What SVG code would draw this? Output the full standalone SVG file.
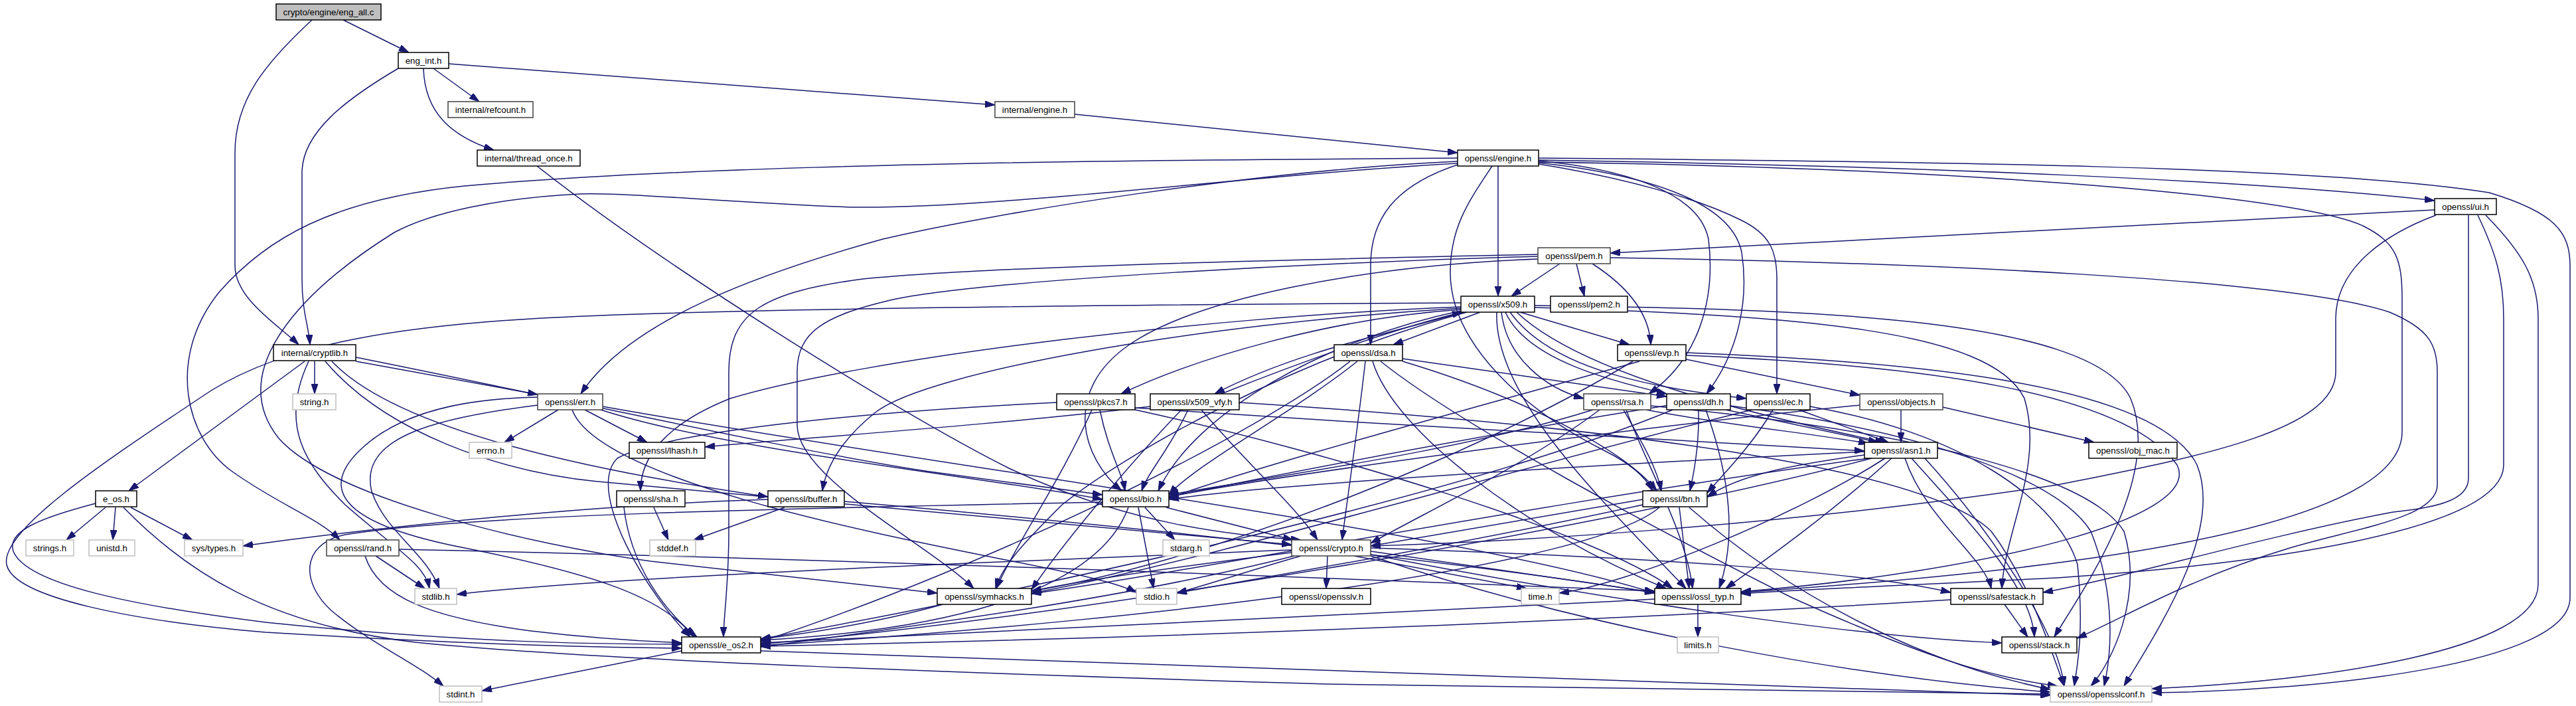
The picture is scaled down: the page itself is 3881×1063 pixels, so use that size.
<svg xmlns="http://www.w3.org/2000/svg" width="3881" height="1063" viewBox="0 0 3881 1063">
<style>
.e path{fill:none;stroke:#191970;stroke-width:1.5;marker-end:url(#a)}
.n rect{fill:#fff;stroke:#000;stroke-width:1.5}
.n.d rect{stroke:#404040}
.n.g rect{stroke:#bfbfbf}
.n.r rect{fill:#bfbfbf}
.n text{font-family:"Liberation Sans",Arial,Helvetica,sans-serif;font-size:13.3px;text-anchor:middle;fill:#000}
</style>
<defs>
<marker id="a" viewBox="0 0 15 10" refX="15" refY="5" markerWidth="15" markerHeight="10" markerUnits="userSpaceOnUse" orient="auto"><path d="M0,0 L15,5 L0,10 z" fill="#191970" stroke="#191970"/></marker>
</defs>
<rect width="3881" height="1063" fill="#fff"/>
<g id="edges" class="e">
<path d="M517,30 L616,79"/>
<path d="M470,30 C400,95 354,150 354,230 L354,400 C354,450 420,490 450,519"/>
<path d="M600,103 C520,150 455,200 455,260 L455,420 C455,470 465,490 467,519"/>
<path d="M676,96 L1499,158"/>
<path d="M653,103 L722,153"/>
<path d="M638,103 C640,170 680,205 744,226"/>
<path d="M1619,172 L2196,230"/>
<path d="M809,250 C1000,400 1350,620 1520,705 C1700,790 1850,805 1960,813"/>
<path d="M2318,238 C2900,243 3500,250 3750,290 C3850,320 3872,350 3872,400 L3872,900 C3872,1000 3500,1040 3242,1043"/>
<path d="M2318,241 C2900,250 3400,272 3668,302"/>
<path d="M2318,244 C2900,252 3450,290 3560,340 C3610,365 3619,390 3619,450 L3619,650 C3619,800 3100,860 2623,892"/>
<path d="M2196,243 C1900,256 1500,320 1330,360 C1150,410 950,480 875,593"/>
<path d="M2196,238 L1950,240 C1400,244 980,255 700,280 C500,300 400,360 330,440 C250,540 280,660 350,710 C420,760 480,780 512,813"/>
<path d="M2196,246 C1900,262 1500,315 1282,312 C1100,305 950,290 875,292 C750,298 650,320 594,350 C450,440 340,560 420,660 C500,750 800,820 980,845 C1150,865 1300,880 1412,893"/>
<path d="M2257,250 L2257,446"/>
<path d="M2196,248 C2100,280 2065,330 2065,400 L2065,519"/>
<path d="M2248,250 C2215,300 2185,340 2185,410 C2185,520 2300,620 2420,680 C2460,700 2480,720 2490,739"/>
<path d="M2318,242 C2450,255 2560,290 2574,360 C2585,450 2560,540 2484,593"/>
<path d="M2318,245 C2500,265 2610,310 2624,380 C2635,450 2620,530 2571,593"/>
<path d="M2318,247 C2450,268 2560,300 2620,330 C2668,352 2677,380 2677,420 L2677,593"/>
<path d="M3668,316 L2426,381"/>
<path d="M3670,324 C3600,350 3519,400 3519,480 L3519,560 C3519,650 3300,690 3100,730 C2700,790 2300,815 2065,822"/>
<path d="M3719,324 L3719,720 C3719,760 3650,765 3600,772 C3400,810 3200,870 3078,892"/>
<path d="M3733,324 C3760,380 3772,420 3772,480 L3772,700 C3772,800 3400,850 3100,870 C2900,880 2700,888 2623,894"/>
<path d="M3745,324 C3800,380 3824,420 3824,480 L3824,880 C3824,980 3500,1025 3242,1037"/>
<path d="M2350,397 L2277,446"/>
<path d="M2375,397 L2387,446"/>
<path d="M2399,397 C2450,430 2485,470 2487,519"/>
<path d="M2426,388 C2900,395 3450,420 3600,470 C3660,495 3672,520 3672,560 L3672,730 C3672,780 3550,795 3450,825 C3300,870 3200,930 3129,961"/>
<path d="M2317,383 C2000,390 1500,400 1300,420 C1150,440 1098,470 1098,560 L1098,800 C1098,880 1090,930 1090,959"/>
<path d="M2317,386 C2000,395 1500,420 1350,450 C1240,475 1201,500 1201,560 L1201,640 C1201,720 1400,820 1467,886"/>
<path d="M2317,390 C2050,400 1800,450 1700,520 C1600,590 1630,690 1690,739"/>
<path d="M2230,470 L2099,519"/>
<path d="M2290,470 L2455,519"/>
<path d="M2262,470 C2270,540 2330,585 2386,600"/>
<path d="M2268,470 C2300,540 2420,572 2511,593"/>
<path d="M2275,470 C2340,560 2500,585 2631,600"/>
<path d="M2285,470 C2380,560 2620,620 2840,666"/>
<path d="M2312,463 C2700,475 3000,495 3050,600 C3080,700 3020,800 3016,886"/>
<path d="M2312,460 C2700,465 3150,475 3210,600 C3260,720 3130,900 3095,959"/>
<path d="M2255,470 C2250,600 2420,760 2540,886"/>
<path d="M2201,462 C1800,478 1300,540 1100,600 C1000,640 965,690 965,739"/>
<path d="M2201,464 C1800,488 1400,560 1320,620 C1270,660 1245,700 1239,739"/>
<path d="M2201,466 C2000,480 1800,540 1689,593"/>
<path d="M2205,470 C2100,500 1950,530 1830,593"/>
<path d="M2201,468 C2000,510 1800,620 1745,739"/>
<path d="M2210,470 C1950,540 1700,680 1600,760 C1550,810 1510,850 1500,886"/>
<path d="M2201,456 C1500,460 1000,468 800,480 C550,495 400,530 300,600 C150,700 0,800 10,850 C20,900 200,935 400,952 C700,970 900,975 1027,976"/>
<path d="M459,544 L194,739"/>
<path d="M474,544 L474,593"/>
<path d="M465,544 C420,640 460,700 520,760 C600,830 640,850 647,886"/>
<path d="M490,544 C580,650 750,710 900,725 C1300,760 1700,800 1946,820"/>
<path d="M536,538 C800,590 1200,680 1400,710 C1550,730 1620,740 1661,745"/>
<path d="M500,544 C600,650 900,710 1157,748"/>
<path d="M536,544 L810,594"/>
<path d="M2113,540 L2511,597"/>
<path d="M2113,544 C2300,600 2450,680 2496,739"/>
<path d="M2034,544 C1900,650 1500,850 1146,966"/>
<path d="M2045,544 C1950,620 1800,700 1761,745"/>
<path d="M2057,544 C2045,650 2030,750 2022,813"/>
<path d="M2068,544 C2100,650 2300,800 2510,886"/>
<path d="M2080,544 C2200,640 2500,800 2700,900 C2900,990 3000,1020 3100,1033"/>
<path d="M2540,541 L2802,595"/>
<path d="M2540,531 C2900,545 3250,580 3310,700 C3350,800 3250,950 3200,1033"/>
<path d="M2540,535 C2900,550 3200,590 3280,700 C3320,780 3000,860 2623,891"/>
<path d="M2470,544 C2200,620 1900,700 1761,750"/>
<path d="M2460,544 C2200,700 1800,850 1554,890"/>
<path d="M841,617 L760,666"/>
<path d="M881,617 L975,666"/>
<path d="M810,610 C650,630 540,660 560,740 C580,800 640,830 662,886"/>
<path d="M810,598 C700,600 600,620 540,680 C480,740 520,790 700,825 C900,865 1000,900 1045,959"/>
<path d="M862,617 C900,720 1300,800 1500,840 C1600,860 1680,875 1712,892"/>
<path d="M908,612 C1400,700 2200,800 2493,893"/>
<path d="M905,617 C1100,680 1500,720 1661,752"/>
<path d="M1592,606 C1300,620 1000,650 930,690 C880,740 980,900 1040,959"/>
<path d="M1645,617 C1600,720 1530,820 1501,886"/>
<path d="M1657,617 C1670,680 1690,710 1695,739"/>
<path d="M1710,614 C2100,640 2600,670 2809,679"/>
<path d="M1710,617 C2000,680 2400,800 2520,886"/>
<path d="M1840,593 C1960,545 2100,495 2203,470"/>
<path d="M1733,612 C1500,640 1200,660 1062,673"/>
<path d="M1867,606 C2400,640 2900,700 3000,800 C3060,880 3090,980 3110,1033"/>
<path d="M1790,617 C1760,680 1730,710 1720,739"/>
<path d="M1810,617 C1880,700 1950,760 1985,813"/>
<path d="M1780,617 C1700,700 1600,820 1554,888"/>
<path d="M2480,617 C2600,640 2750,655 2815,668"/>
<path d="M2446,617 C2470,660 2495,700 2503,739"/>
<path d="M2400,617 C2200,680 1900,720 1761,745"/>
<path d="M2410,617 C2300,700 2150,770 2065,818"/>
<path d="M2450,617 C2480,700 2540,800 2550,886"/>
<path d="M2487,611 C2900,650 3150,720 3200,800 C3230,900 3180,1000 3150,1033"/>
<path d="M2600,617 L2830,666"/>
<path d="M2559,617 C2560,660 2555,700 2546,739"/>
<path d="M2520,617 C2200,750 1500,900 1146,962"/>
<path d="M2515,610 C2200,660 1900,720 1761,748"/>
<path d="M2570,617 C2600,700 2620,800 2590,886"/>
<path d="M2607,611 C2900,650 3100,720 3150,800 C3190,900 3180,990 3170,1033"/>
<path d="M2710,617 L2845,666"/>
<path d="M2671,617 C2640,670 2600,710 2572,742"/>
<path d="M2640,617 C2300,700 1800,850 1554,893"/>
<path d="M2727,612 C2950,650 3100,750 3130,850 C3140,950 3130,1000 3125,1033"/>
<path d="M2864,617 L2864,666"/>
<path d="M2927,613 L3155,666"/>
<path d="M2802,610 C2400,650 1900,720 1761,748"/>
<path d="M2809,685 C2700,700 2620,715 2572,748"/>
<path d="M2840,690 C2700,780 2450,880 2349,893"/>
<path d="M2820,690 C2400,800 1600,930 1146,970"/>
<path d="M2809,680 C2400,700 1900,730 1761,752"/>
<path d="M2880,690 C2960,780 3060,880 3065,959"/>
<path d="M2870,690 C2900,780 2990,840 3000,886"/>
<path d="M2815,690 C2300,760 1800,860 1554,894"/>
<path d="M2850,690 C2750,780 2650,850 2600,886"/>
<path d="M2900,690 C3000,800 3100,950 3110,1033"/>
<path d="M159,764 L100,813"/>
<path d="M174,764 L170,813"/>
<path d="M197,764 L290,813"/>
<path d="M144,758 C60,780 10,800 20,830 C40,880 200,912 400,937 C700,968 900,970 1027,970"/>
<path d="M186,764 C280,860 400,940 625,967 C900,995 1500,1015 2000,1030 C2500,1040 2900,1045 3089,1045"/>
<path d="M985,764 L1007,813"/>
<path d="M940,764 C950,850 1000,920 1050,959"/>
<path d="M1157,752 C900,760 600,790 366,822"/>
<path d="M1182,764 L1045,813"/>
<path d="M1272,755 C1800,800 2300,860 2493,893"/>
<path d="M1715,764 L1738,886"/>
<path d="M1725,764 L1770,813"/>
<path d="M1757,764 L1948,813"/>
<path d="M1700,764 C1650,900 1400,950 1146,964"/>
<path d="M1661,756 C1200,765 700,775 520,805 C450,820 455,880 500,920 C560,970 630,1000 668,1033"/>
<path d="M2475,752 L2065,822"/>
<path d="M2475,760 C2200,820 1900,870 1773,893"/>
<path d="M2530,764 L2545,886"/>
<path d="M2500,764 C2400,850 1800,930 1146,972"/>
<path d="M2545,764 C2700,900 2900,1000 3089,1038"/>
<path d="M566,837 L640,886"/>
<path d="M601,827 C1200,840 2000,870 2493,890"/>
<path d="M550,837 C570,900 650,930 800,950 C900,962 980,966 1027,968"/>
<path d="M2000,837 L1998,886"/>
<path d="M2040,837 L2300,886"/>
<path d="M2065,830 L2493,892"/>
<path d="M2065,825 C2500,840 2800,860 2939,892"/>
<path d="M2065,835 C2400,900 2800,960 3016,968"/>
<path d="M2065,837 C2400,950 2800,1020 3089,1042"/>
<path d="M1946,828 C1400,850 900,870 688,895"/>
<path d="M1960,837 C1880,860 1820,880 1773,893"/>
<path d="M1950,837 C1700,900 1400,940 1146,974"/>
<path d="M1946,832 C1800,850 1650,870 1554,890"/>
<path d="M2558,910 L2558,959"/>
<path d="M2493,902 C2000,930 1500,950 1146,968"/>
<path d="M3020,910 L3055,959"/>
<path d="M2939,903 C2500,930 1800,960 1146,973"/>
<path d="M1420,910 C1350,930 1250,950 1146,962"/>
<path d="M1146,980 C2000,1010 2800,1035 3089,1047"/>
<path d="M1027,980 L726,1040"/>
</g>
<g id="n_eng_all" class="n r"><rect x="416" y="6" width="158" height="24"/><text x="495" y="23">crypto/engine/eng_all.c</text></g>
<g id="n_eng_int" class="n"><rect x="600" y="79" width="76" height="24"/><text x="638" y="96">eng_int.h</text></g>
<g id="n_refcount" class="n d"><rect x="675" y="153" width="128" height="24"/><text x="739" y="170">internal/refcount.h</text></g>
<g id="n_int_engine" class="n d"><rect x="1499" y="153" width="120" height="24"/><text x="1559" y="170">internal/engine.h</text></g>
<g id="n_thread_once" class="n"><rect x="719" y="226" width="155" height="24"/><text x="796.5" y="243">internal/thread_once.h</text></g>
<g id="n_engine" class="n"><rect x="2196" y="226" width="122" height="24"/><text x="2257" y="243">openssl/engine.h</text></g>
<g id="n_ui" class="n"><rect x="3668" y="299" width="93" height="24"/><text x="3714.5" y="316">openssl/ui.h</text></g>
<g id="n_pem" class="n d"><rect x="2317" y="373" width="109" height="24"/><text x="2371.5" y="390">openssl/pem.h</text></g>
<g id="n_x509" class="n"><rect x="2201" y="446" width="111" height="24"/><text x="2256.5" y="463">openssl/x509.h</text></g>
<g id="n_pem2" class="n"><rect x="2336" y="446" width="116" height="24"/><text x="2394" y="463">openssl/pem2.h</text></g>
<g id="n_cryptlib" class="n"><rect x="412" y="519" width="124" height="24"/><text x="474" y="536">internal/cryptlib.h</text></g>
<g id="n_dsa" class="n"><rect x="2010" y="519" width="103" height="24"/><text x="2061.5" y="536">openssl/dsa.h</text></g>
<g id="n_evp" class="n"><rect x="2437" y="519" width="103" height="24"/><text x="2488.5" y="536">openssl/evp.h</text></g>
<g id="n_string" class="n g"><rect x="441" y="593" width="65" height="24"/><text x="473.5" y="610">string.h</text></g>
<g id="n_err" class="n d"><rect x="810" y="593" width="98" height="24"/><text x="859" y="610">openssl/err.h</text></g>
<g id="n_pkcs7" class="n"><rect x="1592" y="593" width="118" height="24"/><text x="1651" y="610">openssl/pkcs7.h</text></g>
<g id="n_x509_vfy" class="n"><rect x="1733" y="593" width="134" height="24"/><text x="1800" y="610">openssl/x509_vfy.h</text></g>
<g id="n_rsa" class="n d"><rect x="2386" y="593" width="101" height="24"/><text x="2436.5" y="610">openssl/rsa.h</text></g>
<g id="n_dh" class="n"><rect x="2511" y="593" width="96" height="24"/><text x="2559" y="610">openssl/dh.h</text></g>
<g id="n_ec" class="n"><rect x="2631" y="593" width="96" height="24"/><text x="2679" y="610">openssl/ec.h</text></g>
<g id="n_objects" class="n d"><rect x="2802" y="593" width="125" height="24"/><text x="2864.5" y="610">openssl/objects.h</text></g>
<g id="n_errno" class="n g"><rect x="707" y="666" width="64" height="24"/><text x="739" y="683">errno.h</text></g>
<g id="n_lhash" class="n"><rect x="948" y="666" width="114" height="24"/><text x="1005" y="683">openssl/lhash.h</text></g>
<g id="n_asn1" class="n"><rect x="2809" y="666" width="110" height="24"/><text x="2864" y="683">openssl/asn1.h</text></g>
<g id="n_obj_mac" class="n"><rect x="3147" y="666" width="133" height="24"/><text x="3213.5" y="683">openssl/obj_mac.h</text></g>
<g id="n_e_os" class="n"><rect x="144" y="739" width="62" height="24"/><text x="175" y="756">e_os.h</text></g>
<g id="n_sha" class="n"><rect x="929" y="739" width="103" height="24"/><text x="980.5" y="756">openssl/sha.h</text></g>
<g id="n_buffer" class="n"><rect x="1157" y="739" width="115" height="24"/><text x="1214.5" y="756">openssl/buffer.h</text></g>
<g id="n_bio" class="n"><rect x="1661" y="739" width="100" height="24"/><text x="1711" y="756">openssl/bio.h</text></g>
<g id="n_bn" class="n"><rect x="2475" y="739" width="97" height="24"/><text x="2523.5" y="756">openssl/bn.h</text></g>
<g id="n_strings" class="n g"><rect x="39" y="813" width="72" height="24"/><text x="75" y="830">strings.h</text></g>
<g id="n_unistd" class="n g"><rect x="134" y="813" width="69" height="24"/><text x="168.5" y="830">unistd.h</text></g>
<g id="n_systypes" class="n g"><rect x="278" y="813" width="88" height="24"/><text x="322" y="830">sys/types.h</text></g>
<g id="n_rand" class="n d"><rect x="492" y="813" width="109" height="24"/><text x="546.5" y="830">openssl/rand.h</text></g>
<g id="n_stddef" class="n g"><rect x="979" y="813" width="69" height="24"/><text x="1013.5" y="830">stddef.h</text></g>
<g id="n_stdarg" class="n g"><rect x="1752" y="813" width="70" height="24"/><text x="1787" y="830">stdarg.h</text></g>
<g id="n_crypto" class="n d"><rect x="1946" y="813" width="119" height="24"/><text x="2005.5" y="830">openssl/crypto.h</text></g>
<g id="n_stdlib" class="n g"><rect x="625" y="886" width="63" height="24"/><text x="656.5" y="903">stdlib.h</text></g>
<g id="n_symhacks" class="n"><rect x="1412" y="886" width="142" height="24"/><text x="1483" y="903">openssl/symhacks.h</text></g>
<g id="n_stdio" class="n g"><rect x="1712" y="886" width="61" height="24"/><text x="1742.5" y="903">stdio.h</text></g>
<g id="n_opensslv" class="n"><rect x="1931" y="886" width="134" height="24"/><text x="1998" y="903">openssl/opensslv.h</text></g>
<g id="n_time" class="n g"><rect x="2292" y="886" width="57" height="24"/><text x="2320.5" y="903">time.h</text></g>
<g id="n_ossl_typ" class="n"><rect x="2493" y="886" width="130" height="24"/><text x="2558" y="903">openssl/ossl_typ.h</text></g>
<g id="n_safestack" class="n"><rect x="2939" y="886" width="139" height="24"/><text x="3008.5" y="903">openssl/safestack.h</text></g>
<g id="n_e_os2" class="n"><rect x="1027" y="959" width="119" height="24"/><text x="1086.5" y="976">openssl/e_os2.h</text></g>
<g id="n_stack" class="n"><rect x="3016" y="959" width="113" height="24"/><text x="3072.5" y="976">openssl/stack.h</text></g>
<g id="n_limits" class="n g"><rect x="2527" y="959" width="62" height="24"/><text x="2558" y="976">limits.h</text></g>
<g id="n_stdint" class="n g"><rect x="662" y="1033" width="64" height="24"/><text x="694" y="1050">stdint.h</text></g>
<g id="n_opensslconf" class="n g"><rect x="3089" y="1033" width="153" height="24"/><text x="3165.5" y="1050">openssl/opensslconf.h</text></g>
</svg>
